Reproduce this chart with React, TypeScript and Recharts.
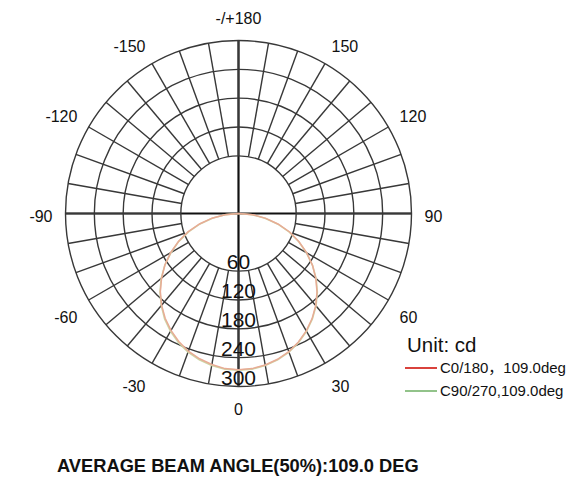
import React from "react";
import {
  PolarAngleAxis,
  PolarGrid,
  PolarRadiusAxis,
  Radar,
  RadarChart,
} from "recharts";

// gamma angles (deg from nadir); listed clockwise on screen, starting at the bottom
const gammaAngles = [
  0, -5, -10, -15, -20, -25, -30, -35, -40, -45, -50, -55, -60, -65, -70, -75,
  -80, -85, -90, -95, -100, -105, -110, -115, -120, -125, -130, -135, -140,
  -145, -150, -155, -160, -165, -170, -175, 180, 175, 170, 165, 160, 155, 150,
  145, 140, 135, 130, 125, 120, 115, 110, 105, 100, 95, 90, 85, 80, 75, 70, 65,
  60, 55, 50, 45, 40, 35, 30, 25, 20, 15, 10, 5,
];

// luminous intensity, cd (same order as gammaAngles)
const c0Values = [
  265, 264, 259, 253, 245, 234, 221, 206, 189, 170, 149, 127, 103, 78, 56, 42,
  28, 14, 0, 0, 0, 0, 0, 0, 0, 0, 0, 0, 0, 0, 0, 0, 0, 0, 0, 0, 0, 0, 0, 0, 0,
  0, 0, 0, 0, 0, 0, 0, 0, 0, 0, 0, 0, 0, 0, 15, 29, 43, 57, 79, 104, 128, 150,
  171, 190, 207, 222, 235, 246, 254, 260, 264,
];
const c90Values = [
  266, 265, 261, 255, 247, 236, 223, 208, 190, 171, 150, 127, 102, 77, 55, 41,
  27, 13, 0, 0, 0, 0, 0, 0, 0, 0, 0, 0, 0, 0, 0, 0, 0, 0, 0, 0, 0, 0, 0, 0, 0,
  0, 0, 0, 0, 0, 0, 0, 0, 0, 0, 0, 0, 0, 0, 14, 28, 42, 56, 78, 103, 128, 151,
  172, 191, 208, 223, 236, 247, 255, 261, 265,
];

const radiusTicks = [60, 120, 180, 240, 300];
const axisCross = [0, 90, 180, -90];
const beamAngle = 109.0;

const FONT = '"Liberation Sans", Arial, "Noto Sans CJK SC", sans-serif';
const W = 570;
const H = 481;
const CX = 238.5;
const CY = 213.5;
const OUTER = 173;
const INNER = OUTER / 3;
const START_ANGLE = -90;

const rows = gammaAngles.map((gamma, i) => ({
  gamma,
  c0: c0Values[i],
  c90: c90Values[i],
}));

const toChartAngle = (g: number) => START_ANGLE + g;
const spokeAngles = gammaAngles.filter((g) => g % 10 === 0).map(toChartAngle);

// radius scale: 0..first ring fills the hole, the rings above it are evenly spaced
function makeRingScale(): any {
  let dom = [0, 300];
  let rng = [0, 1];
  const first = radiusTicks[0];
  const scale: any = (v: number) => {
    const [, d1] = dom;
    const [r0, r1] = rng;
    if (v <= first) return (Math.max(v, 0) / first) * r0;
    return r0 + ((v - first) / (d1 - first)) * (r1 - r0);
  };
  scale.domain = (d?: number[]) => {
    if (!d) return dom;
    dom = d.map(Number);
    return scale;
  };
  scale.range = (r?: number[]) => {
    if (!r) return rng;
    rng = r.map(Number);
    return scale;
  };
  scale.copy = () => makeRingScale().domain(dom).range(rng);
  scale.ticks = () => radiusTicks;
  scale.tickFormat = () => (v: number) => String(v);
  scale.clamp = () => scale;
  return scale;
}

const angleLabel = (g: number) => (g === 180 ? "-/+180" : String(g));

const AngleTick = (props: any) => {
  const { payload } = props;
  const g = Number(payload?.value);
  if (g % 30 !== 0) return null;
  const rad = (-(payload.coordinate ?? 0) * Math.PI) / 180;
  const cos = Math.cos(rad);
  const sin = Math.sin(rad);
  const side = Math.abs(cos) > 0.01;
  const anchor = cos > 0.01 ? "start" : cos < -0.01 ? "end" : "middle";
  const dy = (sin > 0.01 ? 5.5 : sin < -0.01 ? -5.5 : 0) + (side ? 3 : 0);
  return (
    <text
      x={CX + (OUTER + 13) * cos}
      y={CY + (OUTER + 17) * sin + dy}
      textAnchor={anchor}
      dominantBaseline="central"
      fontSize={16}
      fontFamily={FONT}
      fill="#111"
    >
      {angleLabel(g)}
    </text>
  );
};

const RadiusTick = (props: any) => {
  const { x, y, payload } = props;
  return (
    <text
      x={x}
      y={y - 2}
      textAnchor="middle"
      fontSize={21}
      fontFamily={FONT}
      fill="#111"
    >
      {payload?.value}
    </text>
  );
};

export default function App() {
  return (
    <div
      style={{
        position: "absolute",
        left: 0,
        top: 0,
        width: W,
        height: H,
        background: "#fff",
        fontFamily: FONT,
        overflow: "hidden",
      }}
    >
      {/* main cross through the centre */}
      <div style={{ position: "absolute", left: 0, top: 0 }}>
        <RadarChart
          width={W}
          height={H}
          data={rows}
          cx={CX}
          cy={CY}
          innerRadius={0}
          outerRadius={OUTER}
          startAngle={START_ANGLE}
          endAngle={START_ANGLE - 360}
          margin={{ top: 0, right: 0, bottom: 0, left: 0 }}
        >
          <PolarGrid
            gridType="circle"
            polarAngles={axisCross.map(toChartAngle)}
            polarRadius={[]}
            stroke="#111"
            strokeWidth={2.2}
          />
          <PolarAngleAxis dataKey="gamma" tick={false} axisLine={false} tickLine={false} />
          <PolarRadiusAxis domain={[0, 300]} tick={false} axisLine={false} />
        </RadarChart>
      </div>

      {/* grid, labels and curves */}
      <div style={{ position: "absolute", left: 0, top: 0 }}>
        <RadarChart
          width={W}
          height={H}
          data={rows}
          cx={CX}
          cy={CY}
          innerRadius={INNER}
          outerRadius={OUTER}
          startAngle={START_ANGLE}
          endAngle={START_ANGLE - 360}
          margin={{ top: 0, right: 0, bottom: 0, left: 0 }}
        >
          <PolarGrid
            gridType="circle"
            polarAngles={spokeAngles}
            stroke="#383838"
            strokeWidth={1.4}
          />
          <PolarAngleAxis
            dataKey="gamma"
            tick={<AngleTick />}
            tickLine={false}
            axisLine={false}
          />
          <PolarRadiusAxis
            type="number"
            angle={-90}
            domain={[0, 300]}
            ticks={radiusTicks}
            scale={makeRingScale()}
            tick={<RadiusTick />}
            axisLine={false}
            tickLine={false}
          />
          <Radar
            dataKey="c90"
            stroke="#cdd7a6"
            strokeWidth={1.6}
            fill="none"
            fillOpacity={0}
            dot={false}
            isAnimationActive={false}
          />
          <Radar
            dataKey="c0"
            stroke="#e8ab95"
            strokeWidth={1.5}
            fill="none"
            fillOpacity={0}
            dot={false}
            isAnimationActive={false}
          />
        </RadarChart>
      </div>

      {/* legend */}
      <div style={{ position: "absolute", left: 407, top: 333, fontSize: 20.5, color: "#111" }}>
        Unit: cd
      </div>
      <svg style={{ position: "absolute", left: 400, top: 358 }} width={170} height={46}>
        <line x1={5} y1={10} x2={37} y2={10} stroke="#d9423c" strokeWidth={2} />
        <text x={40} y={15} fontSize={15} fontFamily={FONT} fill="#111">
          C0/180，109.0deg
        </text>
        <line x1={5} y1={33} x2={37} y2={33} stroke="#92c38a" strokeWidth={2} />
        <text x={40} y={38} fontSize={15} fontFamily={FONT} fill="#111">
          {`C90/270,${beamAngle.toFixed(1)}deg`}
        </text>
      </svg>

      {/* title */}
      <div
        style={{
          position: "absolute",
          left: 57,
          top: 455,
          fontSize: 18.3,
          fontWeight: 700,
          color: "#111",
          whiteSpace: "nowrap",
        }}
      >
        {`AVERAGE BEAM ANGLE(50%):${beamAngle.toFixed(1)} DEG`}
      </div>
    </div>
  );
}
